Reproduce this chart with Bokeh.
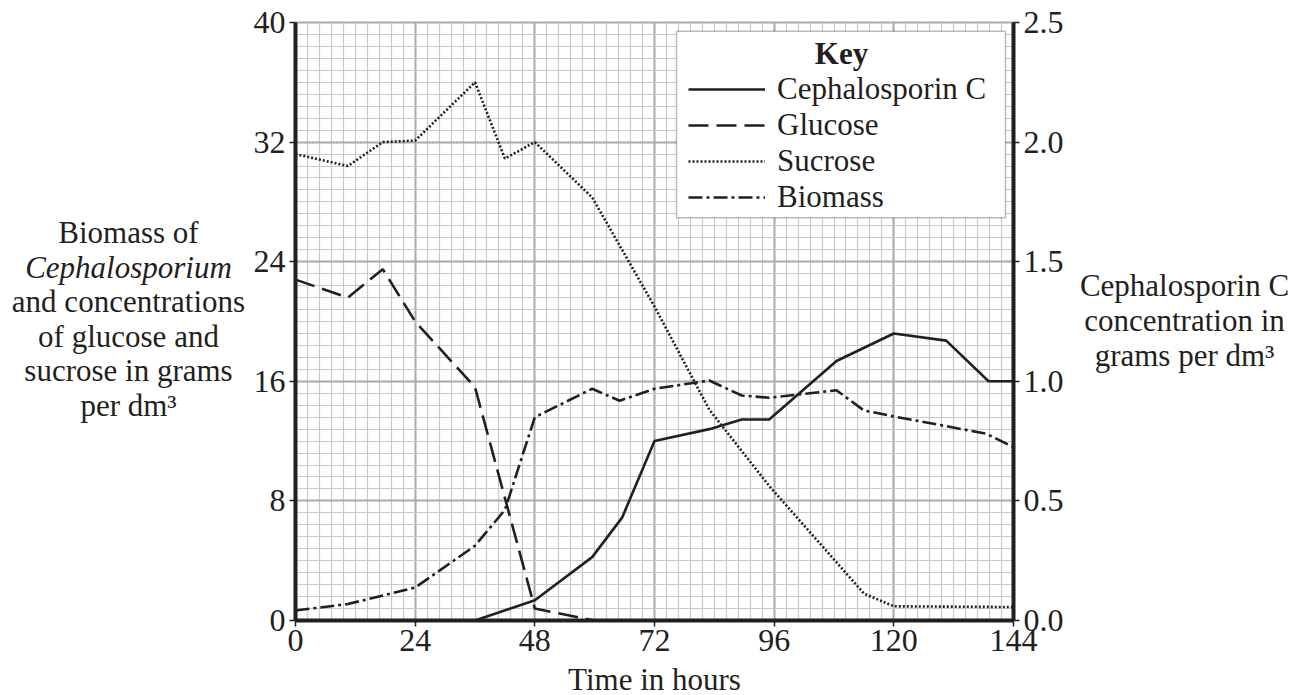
from bokeh.plotting import figure
from bokeh.models import (Range1d, LinearAxis, FixedTicker, PrintfTickFormatter,
                          Legend, LegendItem, Label, BoxAnnotation, Grid)
from bokeh.embed import file_html
from bokeh.resources import INLINE
import numpy as np

# ---------------- data ----------------
ceph_t = [36, 48, 59.5, 65.5, 72, 83, 89.5, 95, 108.5, 120, 130.5, 139, 144]
ceph = [0.0, 0.085, 0.265, 0.43, 0.75, 0.80, 0.84, 0.84, 1.085, 1.20, 1.17, 1.00, 1.00]

glucose_t = [0, 10.5, 17.5, 24, 36, 48, 60]
glucose = [22.8, 21.6, 23.5, 20.0, 15.6, 0.8, 0.0]

sucrose_t = [0, 10.5, 17.5, 24, 36, 42, 48, 59.5, 72, 83, 95, 108.5, 114, 120, 144]
sucrose = [31.2, 30.4, 32.0, 32.1, 36.0, 30.9, 32.0, 28.3, 21.0, 14.1, 9.0, 3.9, 1.8, 0.95, 0.9]

biomass_t = [0, 10.5, 24, 36, 42, 48, 59.5, 65, 72, 83, 89.5, 95, 108.5, 114, 120, 138.5, 144]
biomass = [0.67, 1.1, 2.2, 5.0, 7.4, 13.6, 15.5, 14.7, 15.5, 16.05, 15.05, 14.9, 15.4, 14.05, 13.65, 12.5, 11.6]

x_ticks = [0, 24, 48, 72, 96, 120, 144]
y_ticks = [0, 8, 16, 24, 32, 40]
y2_ticks = [0.0, 0.5, 1.0, 1.5, 2.0, 2.5]

left_title = ["Biomass of", "Cephalosporium", "and concentrations",
              "of glucose and", "sucrose in grams", "per dm³"]
right_title = ["Cephalosporin C", "concentration in", "grams per dm³"]
x_title = "Time in hours"
series_names = ["Cephalosporin C", "Glucose", "Sucrose", "Biomass"]

# ---------------- layout geometry (pixels) ----------------
W, H = 1304, 695
FL, FR, FT, FB = 295, 1013, 22, 620      # chart area edges
X0, X1, Y0, Y1 = 0, 144, 0, 40
Y2MAX = 2.5
kx = (FR - FL) / (X1 - X0)
ky = (FB - FT) / (Y1 - Y0)
BL = 10.5   # correction between wanted baseline and label anchor

def px2x(px):
    return X0 + (px - FL) / kx

def px2y(py):
    return Y0 + (FB - py) / ky

FONT = "Liberation Serif"
INK = "#231f20"
FS = "31px"
TFS = "32px"

p = figure(width=W, height=H, output_backend="svg", toolbar_location=None,
           x_range=Range1d(px2x(0), px2x(W)), y_range=Range1d(px2y(H), px2y(0)),
           x_axis_type=None, y_axis_type=None,
           min_border_left=0, min_border_right=0, min_border_top=0, min_border_bottom=0)
p.outline_line_color = None
p.background_fill_color = "white"
p.border_fill_color = "white"
r2 = Y2MAX / Y1
p.extra_y_ranges = {"ceph": Range1d(px2y(H) * r2, px2y(0) * r2)}

minor_x = [float(v) for v in np.arange(0, 144.001, 2.4)]
minor_y = [float(v) for v in np.arange(0, 40.001, 0.8)]
xticker = FixedTicker(ticks=x_ticks, minor_ticks=minor_x)
yticker = FixedTicker(ticks=y_ticks, minor_ticks=minor_y)

xaxis = LinearAxis(ticker=xticker, fixed_location=Y0, bounds=(X0, X1))
yaxis = LinearAxis(ticker=yticker, fixed_location=X0, bounds=(Y0, Y1))
y2axis = LinearAxis(y_range_name="ceph", ticker=FixedTicker(ticks=y2_ticks),
                    formatter=PrintfTickFormatter(format="%.1f"),
                    fixed_location=X1, bounds=(0, Y2MAX))
for ax in (xaxis, yaxis, y2axis):
    ax.axis_line_color = INK
    ax.axis_line_width = 4
    ax.major_tick_line_color = INK
    ax.major_tick_line_width = 1.5
    ax.major_tick_out = 6
    ax.major_tick_in = 0
    ax.minor_tick_line_color = None
    ax.major_label_text_font = FONT
    ax.major_label_text_font_size = TFS
    ax.major_label_text_color = INK
    ax.major_label_standoff = 4
xaxis.major_label_standoff = 3
p.add_layout(xaxis, "below")
p.add_layout(yaxis, "left")
p.add_layout(y2axis, "right")

gx = Grid(dimension=0, ticker=xticker, bounds=(X0, X1), cross_bounds=(Y0, Y1),
          grid_line_color="#aaaaaa", grid_line_width=2,
          minor_grid_line_color="#c8c8c8", minor_grid_line_width=1.2)
gy = Grid(dimension=1, ticker=yticker, bounds=(Y0, Y1), cross_bounds=(X0, X1),
          grid_line_color="#aaaaaa", grid_line_width=2,
          minor_grid_line_color="#c8c8c8", minor_grid_line_width=1.2)
p.add_layout(gx)
p.add_layout(gy)

LW = 2.6
r_c = p.line(ceph_t, ceph, y_range_name="ceph", line_color=INK, line_width=LW)
r_g = p.line(glucose_t, glucose, line_color=INK, line_width=LW, line_dash="20 8")
r_s = p.line(sucrose_t, sucrose, line_color=INK, line_width=LW, line_dash="2 2")
r_b = p.line(biomass_t, biomass, line_color=INK, line_width=LW, line_dash="14 4 3 4")

# key box
box = BoxAnnotation(left=px2x(676), right=px2x(1005), top=px2y(30.7), bottom=px2y(217.3),
                    fill_color="white", fill_alpha=1.0,
                    line_color=INK, line_width=1.5, level="annotation")
p.add_layout(box)
p.add_layout(Label(x=px2x(841), y=px2y(63.5 - BL), text="Key", text_font=FONT,
                   text_font_size=FS, text_font_style="bold", text_color=INK,
                   text_align="center", text_baseline="alphabetic"))

legend = Legend(items=[LegendItem(label=n, renderers=[r]) for n, r in
                       zip(series_names, [r_c, r_g, r_s, r_b])],
                location=(688, H - 215), padding=0, margin=0, spacing=0,
                border_line_color=None, background_fill_alpha=0,
                glyph_width=77, glyph_height=20, label_standoff=12,
                label_text_font=FONT, label_text_font_size=FS,
                label_text_color=INK)
p.add_layout(legend)

# axis titles
left_base = [242.5, 277, 311.6, 346.2, 380.8, 415.4]
for t, yb in zip(left_title, left_base):
    p.add_layout(Label(x=px2x(128), y=px2y(yb - BL), text=t, text_font=FONT,
                       text_font_size=FS,
                       text_font_style="italic" if t == "Cephalosporium" else "normal",
                       text_color=INK, text_align="center", text_baseline="alphabetic"))
right_base = [295, 330, 365]
for t, yb in zip(right_title, right_base):
    p.add_layout(Label(x=px2x(1184), y=px2y(yb - BL), text=t, text_font=FONT,
                       text_font_size=FS, text_color=INK, text_align="center",
                       text_baseline="alphabetic"))
p.add_layout(Label(x=px2x(654), y=px2y(689 - BL), text=x_title, text_font=FONT,
                   text_font_size=FS, text_color=INK, text_align="center",
                   text_baseline="alphabetic"))

open("out.html", "w").write(file_html(p, INLINE))
